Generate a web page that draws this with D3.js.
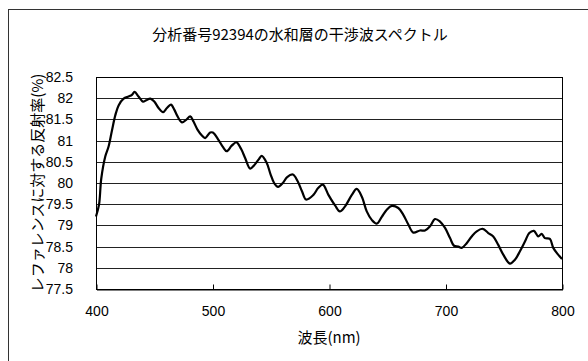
<!DOCTYPE html>
<html>
<head>
<meta charset="utf-8">
<script src="https://cdn.jsdelivr.net/npm/d3@7"></script>
<style>
  body { margin: 0; background: #fff; }
  svg text { fill: #000; }
</style>
</head>
<body>
<svg id="chart" width="588" height="361"></svg>
<script>
/*** DATA ***/
var title = '分析番号92394の水和層の干渉波スペクトル';
var xTitle = '波長(nm)';
var yTitle = 'レファレンスに対する反射率(%)';
var xTicks = [400, 500, 600, 700, 800];
var yTicks = [77.5, 78, 78.5, 79, 79.5, 80, 80.5, 81, 81.5, 82, 82.5];

//wavelength (nm)
var wavelength = [400, 402.6, 404.5, 408, 410.8, 413.7, 416.6, 419.4, 423.7, 428, 430.9, 433.1, 436.5, 440.3, 443.1, 446.6, 450,
  453.7, 457.5, 460.9, 464.3, 467.2, 470, 473.8, 477.4, 480.9, 483.7, 487.1, 490.9, 493.7, 498, 500.3, 505.1, 508.9,
  512.2, 516.5, 520.6, 524.6, 528, 532.3, 535.8, 539.5, 542.2, 546.3, 549.9, 552.9, 556.3, 560.4, 564.1, 569, 573.1,
  576.9, 580.4, 586.6, 590.7, 594.7, 599.5, 605.2, 609.3, 613.8, 619.6, 623.8, 628.1, 632.4, 636.7, 641, 645.3, 649.6,
  653.9, 659.5, 663.8, 668.1, 672.4, 678.1, 682.4, 686.7, 691, 695.3, 699.6, 703.9, 707.3, 711, 713.9, 718.2, 722.5,
  726.8, 731.9, 736.7, 741, 745.3, 749.6, 755.3, 759.6, 763.9, 768.2, 771.9, 775.9, 779.6, 782.5, 785.3, 789.6, 792.5,
  796.7, 800];
//reflectance (%)
var reflectance = [79.21, 79.49, 80.1, 80.63, 80.86, 81.24, 81.6, 81.83, 81.99, 82.04, 82.08, 82.15, 82.04, 81.92, 81.95, 81.99, 81.92,
  81.77, 81.67, 81.77, 81.85, 81.73, 81.57, 81.43, 81.49, 81.57, 81.45, 81.26, 81.12, 81.06, 81.19, 81.19, 81.02, 80.85,
  80.75, 80.88, 80.96, 80.8, 80.59, 80.34, 80.42, 80.55, 80.64, 80.49, 80.2, 80.0, 79.91, 80.0, 80.14, 80.2, 80.04,
  79.8, 79.61, 79.72, 79.88, 79.96, 79.72, 79.47, 79.33, 79.45, 79.72, 79.86, 79.68, 79.33, 79.13, 79.04, 79.2, 79.37,
  79.46, 79.41, 79.25, 79.02, 78.83, 78.88, 78.88, 78.98, 79.15, 79.09, 78.94, 78.7, 78.52, 78.5, 78.47, 78.58, 78.74,
  78.86, 78.92, 78.82, 78.74, 78.54, 78.31, 78.1, 78.19, 78.39, 78.62, 78.82, 78.87, 78.74, 78.8, 78.7, 78.68, 78.47,
  78.31, 78.21];

var latinFont = '"Liberation Sans", Arial, "Noto Sans CJK JP", sans-serif';
var cjkFont = '"Noto Sans CJK JP", "Liberation Sans", sans-serif';

var svg = d3.select('#chart');

//outer chart frame
svg.append('rect')
  .attr('x', 8.5).attr('y', 9.5)
  .attr('width', 620).attr('height', 400)
  .attr('fill', '#fff')
  .attr('stroke', '#333')
  .attr('stroke-width', 1);

//plot area
var plot = {left: 96, right: 562, top: 77, bottom: 289};

var x = d3.scaleLinear().domain([400, 800]).range([plot.left, plot.right]);
var y = d3.scaleLinear().domain([77.5, 82.5]).range([plot.bottom, plot.top]);

//gridlines
svg.append('g')
  .selectAll('line')
  .data(yTicks)
  .join('line')
  .attr('x1', plot.left).attr('x2', plot.right)
  .attr('y1', function(d) { return Math.round(y(d)) + 0.5; })
  .attr('y2', function(d) { return Math.round(y(d)) + 0.5; })
  .attr('stroke', '#222')
  .attr('stroke-width', 1);

//plot border
svg.append('rect')
  .attr('x', plot.left + 0.5).attr('y', plot.top + 0.5)
  .attr('width', plot.right - plot.left).attr('height', plot.bottom - plot.top)
  .attr('fill', 'none')
  .attr('stroke', '#000')
  .attr('stroke-width', 1);

//x axis (ticks point inward)
var xAxis = d3.axisBottom(x)
  .tickValues(xTicks)
  .tickSizeInner(-5)
  .tickSizeOuter(0)
  .tickPadding(17);

svg.append('g')
  .attr('transform', 'translate(0.5,' + (plot.bottom + 0.5) + ')')
  .call(xAxis)
  .call(function(g) {
    g.select('.domain').attr('stroke', '#000');
    g.selectAll('.tick line').attr('stroke', '#000');
    g.selectAll('.tick text')
      .attr('font-family', latinFont)
      .attr('font-size', 14)
      .attr('fill', '#000');
  });

//y axis labels
var yAxis = d3.axisLeft(y)
  .tickValues(yTicks)
  .tickSize(0)
  .tickPadding(23)
  .tickFormat(d3.format('~g'));

svg.append('g')
  .attr('transform', 'translate(' + plot.left + ',0)')
  .call(yAxis)
  .call(function(g) {
    g.select('.domain').remove();
    g.selectAll('.tick text')
      .attr('font-family', latinFont)
      .attr('font-size', 14)
      .attr('fill', '#000');
  });

//series line
var line = d3.line()
  .x(function(d, i) { return x(wavelength[i]); })
  .y(function(d) { return y(d); })
  .curve(d3.curveCatmullRom.alpha(0.5));

svg.append('path')
  .datum(reflectance)
  .attr('d', line)
  .attr('fill', 'none')
  .attr('stroke', '#000')
  .attr('stroke-width', 2.2)
  .attr('stroke-linejoin', 'round');

//titles
svg.append('text')
  .attr('x', 300).attr('y', 40)
  .attr('text-anchor', 'middle')
  .attr('font-family', cjkFont)
  .attr('font-size', 15)
  .text(title);

svg.append('text')
  .attr('x', (plot.left + plot.right) / 2).attr('y', 343)
  .attr('text-anchor', 'middle')
  .attr('font-family', cjkFont)
  .attr('font-size', 15)
  .text(xTitle);

svg.append('text')
  .attr('transform', 'translate(43,' + ((plot.top + plot.bottom) / 2) + ') rotate(-90)')
  .attr('text-anchor', 'middle')
  .attr('font-family', cjkFont)
  .attr('font-size', 15)
  .text(yTitle);
</script>
</body>
</html>
